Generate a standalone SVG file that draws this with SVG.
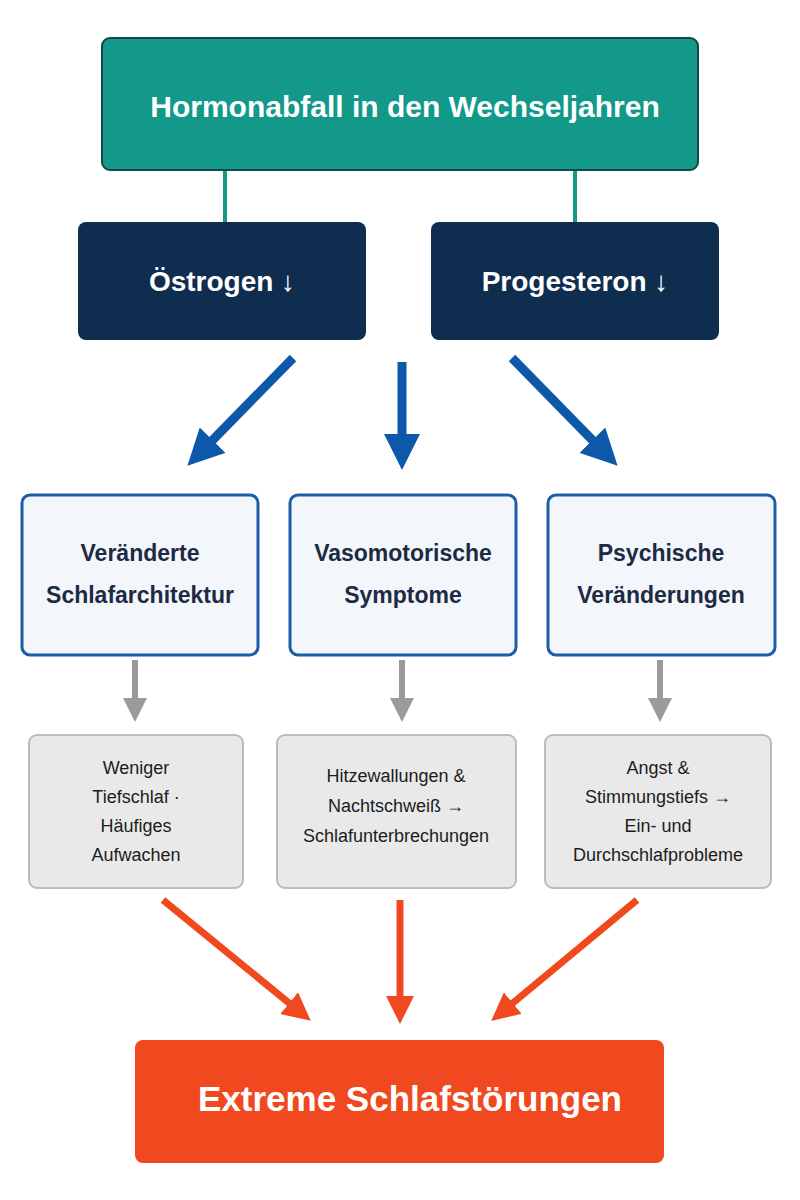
<svg xmlns="http://www.w3.org/2000/svg" width="800" height="1200" viewBox="0 0 800 1200">
<defs>
<style>
text{font-family:"Liberation Sans","Roboto",sans-serif;font-weight:bold;text-anchor:middle}
.w{fill:#fff}
.m{fill:#1c2a44;font-size:23px}
.s{fill:#1c1c1c;font-size:18px;font-weight:normal}
.mid{fill:#f3f6fa;stroke:#1d5ca8;stroke-width:3}
.gb{fill:#e9e9e9;stroke:#bcbcbc;stroke-width:2}
</style>
<marker id="bl" markerWidth="4" markerHeight="4" refX="2" refY="2" orient="auto" markerUnits="strokeWidth"><path d="M0,0L4,2L0,4Z" fill="#0d58a8"/></marker>
<marker id="gr" markerWidth="4" markerHeight="4" refX="2" refY="2" orient="auto" markerUnits="strokeWidth"><path d="M0,0L4,2L0,4Z" fill="#9a9a9a"/></marker>
<marker id="or" markerWidth="4" markerHeight="4" refX="2" refY="2" orient="auto" markerUnits="strokeWidth"><path d="M0,0L4,2L0,4Z" fill="#f0491f"/></marker>
</defs>
<rect width="800" height="1200" fill="#fff"/>
<g id="connectors" fill="none">
<path d="M225,170V222M575,170V222" stroke="#12998a" stroke-width="4"/>
<g stroke="#0d58a8" stroke-width="9">
<path d="M293,358L200,453" marker-end="url(#bl)"/>
<path d="M402,362V452" marker-end="url(#bl)"/>
<path d="M512,358L605,453" marker-end="url(#bl)"/>
</g>
<g stroke="#9a9a9a" stroke-width="6">
<path d="M135,660V710" marker-end="url(#gr)"/>
<path d="M402,660V710" marker-end="url(#gr)"/>
<path d="M660,660V710" marker-end="url(#gr)"/>
</g>
<g stroke="#f0491f" stroke-width="7">
<path d="M163,900L300,1012" marker-end="url(#or)"/>
<path d="M400,900V1010" marker-end="url(#or)"/>
<path d="M637,900L502,1012" marker-end="url(#or)"/>
</g>
</g>
<g id="top"><rect x="102" y="38" width="596" height="132" rx="8" fill="#12998a" stroke="#0e4a4a" stroke-width="2"/><text x="405" y="117" class="w" font-size="30">Hormonabfall in den Wechseljahren</text></g>
<g id="oestrogen"><rect x="78" y="222" width="288" height="118" rx="8" fill="#0f2d4f"/><text x="222" y="291" class="w" font-size="28">Östrogen ↓</text></g>
<g id="progesteron"><rect x="431" y="222" width="288" height="118" rx="8" fill="#0f2d4f"/><text x="575" y="291" class="w" font-size="28">Progesteron ↓</text></g>
<g id="schlaf"><rect class="mid" x="22" y="495" width="236" height="160" rx="8"/><text class="m" x="140" y="561">Veränderte</text><text class="m" x="140" y="603">Schlafarchitektur</text></g>
<g id="vaso"><rect class="mid" x="290" y="495" width="226" height="160" rx="8"/><text class="m" x="403" y="561">Vasomotorische</text><text class="m" x="403" y="603">Symptome</text></g>
<g id="psych"><rect class="mid" x="548" y="495" width="227" height="160" rx="8"/><text class="m" x="661" y="561">Psychische</text><text class="m" x="661" y="603">Veränderungen</text></g>
<g id="g1"><rect class="gb" x="29" y="735" width="214" height="153" rx="8"/><text class="s" x="136" y="774">Weniger</text><text class="s" x="136" y="803">Tiefschlaf ·</text><text class="s" x="136" y="832">Häufiges</text><text class="s" x="136" y="861">Aufwachen</text></g>
<g id="g2"><rect class="gb" x="277" y="735" width="239" height="153" rx="8"/><text class="s" x="396" y="782">Hitzewallungen &amp;</text><text class="s" x="396" y="812">Nachtschweiß →</text><text class="s" x="396" y="842">Schlafunterbrechungen</text></g>
<g id="g3"><rect class="gb" x="545" y="735" width="226" height="153" rx="8"/><text class="s" x="658" y="774">Angst &amp;</text><text class="s" x="658" y="803">Stimmungstiefs →</text><text class="s" x="658" y="832">Ein- und</text><text class="s" x="658" y="861">Durchschlafprobleme</text></g>
<g id="bottom"><rect x="135" y="1040" width="529" height="123" rx="8" fill="#f0491f"/><text x="410" y="1111" class="w" font-size="35">Extreme Schlafstörungen</text></g>
</svg>
